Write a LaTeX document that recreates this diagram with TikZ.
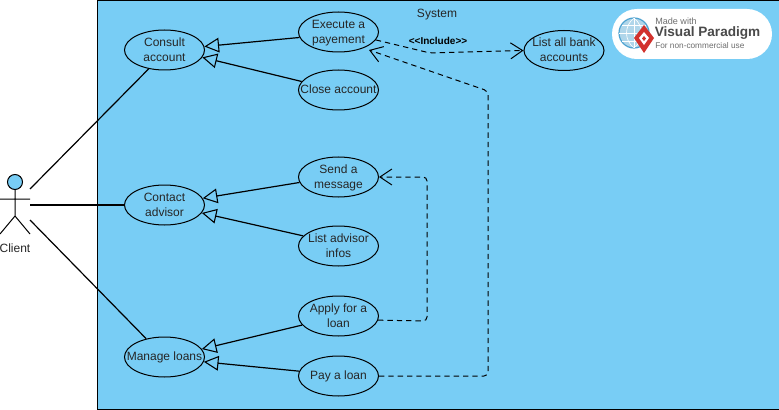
\documentclass[tikz,border=0pt]{standalone}
\usepackage{fontspec}
\setmainfont{Liberation Sans}
\usetikzlibrary{shapes.geometric,arrows.meta}
\definecolor{sysblue}{HTML}{78CDF5}
\definecolor{vpgrey}{HTML}{4A4A4A}
\definecolor{vpred}{HTML}{D2322D}
\definecolor{vpglobe}{HTML}{4FA3D1}
\newcommand{\uclabel}[1]{\makebox[0pt]{\raisebox{-2.9pt}[0pt][0pt]{\begin{tabular}[c]{@{}c@{}}#1\end{tabular}}}}
\tikzset{
  x=0.75pt,y=-0.75pt,
  usecase/.style={draw=black,ellipse,fill=sysblue,minimum width=60pt,minimum height=30pt,inner sep=0pt,font=\fontsize{9}{11.25}\selectfont,text=black!85,line width=0.75pt},
  assoc/.style={draw=black,line width=0.9pt},
  gener/.style={draw=black,line width=0.9pt,-{Triangle[open,length=11pt,width=11pt,line width=0.8pt]}},
  depend/.style={draw=black,line width=0.75pt,dashed,dash pattern=on 4pt off 3pt,rounded corners=3pt,-{Straight Barb[length=9pt,width=12pt,line width=0.75pt]}},
  plain/.style={font=\fontsize{9}{11}\selectfont,text=black!85,inner sep=0pt},
}
\begin{document}
\begin{tikzpicture}
\useasboundingbox (0,0) rectangle (779,410);
\fill[white] (0,0) rectangle (779,410);
\fill[sysblue] (98,0) rectangle (779,408.5);
\draw[black,line width=0.75pt] (97.5,0) -- (97.5,409) -- (779,409);
\draw[black,line width=0.75pt] (97.5,0.4) -- (779,0.4);
\node[plain] (sys) at (437,14.5) {System};
% logo
\fill[white,rounded corners=18.7pt] (612,9) rectangle (772,59);
\fill[vpglobe!45] (634,33) circle (15);
\draw[vpglobe,line width=0.9pt] (634,33) circle (15);
\draw[white,line width=0.5pt] (619,33) -- (649,33) (634,18) -- (634,48) (622,25) -- (646,25) (622,41) -- (646,41);
\draw[white,line width=0.5pt] (634,18) .. controls (624,26) and (624,40) .. (634,48);
\draw[white,line width=0.5pt] (634,18) .. controls (644,26) and (644,40) .. (634,48);
\fill[vpred] (644,25) -- (654,38) -- (644,53) -- (634,38) -- cycle;
\fill[white] (644,32) -- (649,38) -- (644,45) -- (639,38) -- cycle;
\fill[vpred] (644,36) -- (646,38.5) -- (644,41) -- (642,38.5) -- cycle;
\node[anchor=west,inner sep=0pt,text=vpgrey!80,font=\fontsize{6.8}{8}\selectfont] (mw) at (655,21.5) {Made with};
\node[anchor=west,inner sep=0pt,text=vpgrey,font=\bfseries\fontsize{10.2}{12}\selectfont] (vp) at (654.5,33.5) {Visual Paradigm};
\node[anchor=west,inner sep=0pt,text=vpgrey!80,font=\fontsize{6.2}{8}\selectfont] (fn) at (655,46) {For non-commercial use};
% actor
\draw[black,fill=sysblue,line width=0.75pt] (15,182) circle (7.5);
\coordinate (neck) at (15,190);
\coordinate (hip) at (15,216);
\coordinate (armL) at (0,199);
\coordinate (armR) at (30,199);
\coordinate (legL) at (0,234);
\coordinate (legR) at (30,234);
\draw[black,line width=0.75pt] (neck) -- (hip) (armL) -- (armR) (legL) -- (hip) -- (legR);
\node[plain] (client) at (15,248) {Client};
\coordinate (c1) at (30,189);
\coordinate (c2) at (30,205);
\coordinate (c3) at (30,220);
% use cases
\node[usecase] (consult) at (164.5,50) {\uclabel{Consult\\account}};
\node[usecase] (exec) at (338.5,32) {\uclabel{Execute a\\payement}};
\node[usecase] (close) at (338.5,90) {\uclabel{Close account}};
\node[usecase] (bank) at (564,50.5) {\uclabel{List all bank\\accounts}};
\node[usecase] (contact) at (164.5,205) {\uclabel{Contact\\advisor}};
\node[usecase] (send) at (338.5,177) {\uclabel{Send a\\message}};
\node[usecase] (advinfo) at (338.5,246) {\uclabel{List advisor\\infos}};
\node[usecase] (apply) at (338.5,316) {\uclabel{Apply for a\\loan}};
\node[usecase] (pay) at (338.5,376) {\uclabel{Pay a loan}};
\node[usecase] (manage) at (164.5,357) {\uclabel{Manage loans}};
% associations
\draw[assoc] (c1) -- (consult.230);
\draw[assoc] (c2) -- (contact.west);
\draw[assoc] (c3) -- (manage.135);
% generalizations
\draw[gener] (exec.188) -- (consult.5);
\draw[gener] (close.167) -- (consult.-11);
\draw[gener] (send.188) -- (contact.10);
\draw[gener] (advinfo.164) -- (contact.-12);
\draw[gener] (apply.194) -- (manage.12);
\draw[gener] (pay.173) -- (manage.-7);
% dependencies
\coordinate (b1) at (430,53);
\draw[depend] (exec.-12) -- (b1) -- (bank.west);
\node[inner sep=0pt,font=\bfseries\fontsize{7.5}{9}\selectfont] (inc) at (438,41) {<{}<Include>{}>};
\coordinate (p1) at (488,376);
\coordinate (p2) at (488,91);
\coordinate (ptip) at (369,50);
\draw[depend] (pay.east) -- (p1) -- (p2) -- (ptip);
\coordinate (a1) at (427,321);
\coordinate (a2) at (427,177);
\draw[depend] (apply.-6) -- (a1) -- (a2) -- (send.east);
\end{tikzpicture}
\end{document}
